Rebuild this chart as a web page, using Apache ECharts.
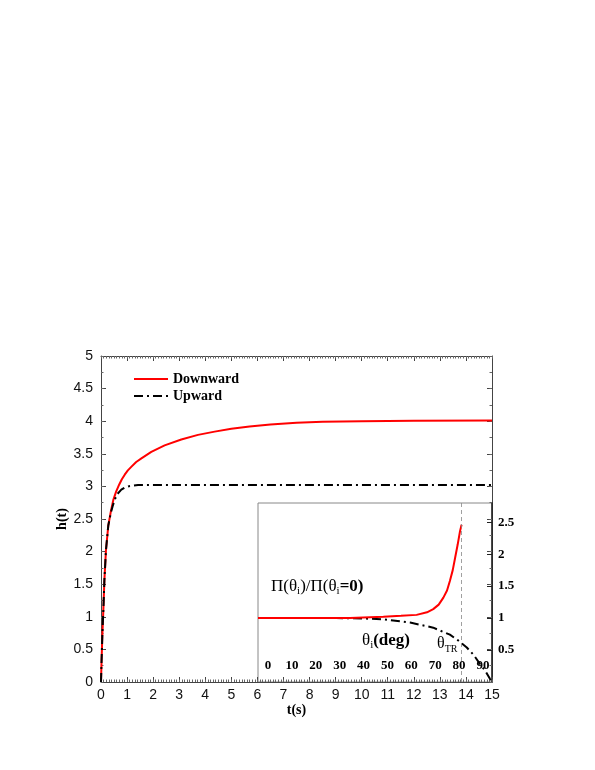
<!DOCTYPE html>
<html>
<head>
<meta charset="utf-8">
<script src="https://cdn.jsdelivr.net/npm/echarts@6/dist/echarts.min.js"></script>
<style>html,body{margin:0;padding:0;background:#fff}#c{width:595px;height:770px}</style>
</head>
<body>
<div id="c"></div>
<script>
// Main plot: h(t)
var tDown = [0, 0.02, 0.05, 0.09, 0.13, 0.19, 0.28, 0.38, 0.47, 0.58, 0.7, 0.8, 0.91, 1.03, 1.16, 1.35, 1.55, 1.93, 2.44, 3.08, 3.72, 4.36, 5.0, 5.7, 6.5, 7.5, 8.5, 10, 12, 15];
var hDown = [0, 0.3, 0.7, 1.1, 1.56, 2.02, 2.4, 2.62, 2.79, 2.92, 3.03, 3.11, 3.18, 3.245, 3.30, 3.375, 3.43, 3.53, 3.63, 3.72, 3.79, 3.84, 3.885, 3.92, 3.95, 3.975, 3.99, 4.0, 4.005, 4.01];
var tUp = [0, 0.02, 0.05, 0.09, 0.13, 0.19, 0.28, 0.38, 0.45, 0.52, 0.62, 0.78, 0.9, 1.04, 1.2, 1.42, 1.8, 2.5, 15];
var hUp = [0, 0.3, 0.7, 1.1, 1.56, 2.02, 2.4, 2.6, 2.70, 2.79, 2.88, 2.95, 2.98, 3.0, 3.01, 3.02, 3.02, 3.02, 3.02];
// Inset: Pi(theta_i)/Pi(theta_i=0)
var thDown = [0, 20, 35.4, 48.2, 55, 61.0, 65, 67.4, 69.5, 71.3, 72.7, 73.8, 74.9, 75.8, 76.8, 77.7, 78.3];
var pDown = [1, 1, 1.0, 1.02, 1.035, 1.05, 1.09, 1.14, 1.21, 1.32, 1.43, 1.58, 1.75, 1.94, 2.15, 2.36, 2.46];
var thUp = [0, 20, 30, 40, 48.2, 58.5, 63, 67.4, 73.8, 77, 80.3, 83, 85.4, 87.5, 89.2, 90];
var pUp = [1, 1, 1.0, 0.995, 0.98, 0.93, 0.89, 0.85, 0.74, 0.65, 0.54, 0.42, 0.28, 0.17, 0.05, 0];
var thetaTR = 78.3;
var insetTickLabels = ['0', '10', '20', '30', '40', '50', '60', '70', '80', '90'];

function pairs(xs, ys) { return xs.map(function (x, i) { return [x, ys[i]]; }); }

var sans = 'Liberation Sans';
var serif = 'Liberation Serif';
var axisCol = '#444';
var dashDot = [9, 4, 2, 4];

var chart = echarts.init(document.getElementById('c'), null, { renderer: 'canvas' });
var majorTick = { show: true, inside: true, length: 5, lineStyle: { color: axisCol } };
var minorTickAx = { show: true, inside: true, length: 2.5, lineStyle: { color: '#666' } };
var noLabel = { show: false };
var noSplit = { show: false };
var titleFont = { fontFamily: serif, fontWeight: 'bold', fontSize: 14, color: '#000' };

chart.setOption({
  animation: false,
  backgroundColor: '#fff',
  legend: {
    data: ['Downward', 'Upward'],
    orient: 'vertical', left: 133, top: 372, padding: 0,
    itemWidth: 34, itemHeight: 12, itemGap: 3,
    itemStyle: { opacity: 0 },
    textStyle: { fontFamily: serif, fontWeight: 'bold', fontSize: 14, color: '#000' }
  },
  grid: [
    { left: 101, top: 356, right: 103, bottom: 88 },
    { left: 258, top: 503, right: 103, bottom: 88, show: true, borderColor: '#888', borderWidth: 1 },
    { left: 268, right: 112, top: 600, bottom: 115 }
  ],
  xAxis: [
    { gridIndex: 0, type: 'value', min: 0, max: 15, interval: 1, position: 'bottom',
      name: 't(s)', nameLocation: 'middle', nameGap: 21, nameTextStyle: titleFont,
      axisLine: { onZero: false, lineStyle: { color: axisCol } }, axisTick: majorTick,
      axisLabel: { fontFamily: sans, fontSize: 14, color: '#111', margin: 6 }, splitLine: noSplit },
    { gridIndex: 0, type: 'value', min: 0, max: 15, interval: 1, position: 'top',
      axisLine: { onZero: false, lineStyle: { color: axisCol } }, axisTick: majorTick,
      axisLabel: noLabel, splitLine: noSplit },
    { gridIndex: 0, type: 'value', min: 0, max: 15, interval: 0.1, position: 'bottom',
      axisLine: { show: false, onZero: false }, axisTick: minorTickAx, axisLabel: noLabel, splitLine: noSplit },
    { gridIndex: 0, type: 'value', min: 0, max: 15, interval: 0.1, position: 'top',
      axisLine: { show: false, onZero: false }, axisTick: minorTickAx, axisLabel: noLabel, splitLine: noSplit },
    { gridIndex: 1, type: 'value', min: 0, max: 90, show: false, axisLine: { onZero: false } },
    { gridIndex: 2, type: 'category', data: insetTickLabels, boundaryGap: false,
      axisLine: { show: false, onZero: false }, axisTick: { show: false },
      axisLabel: { fontFamily: serif, fontWeight: 'bold', fontSize: 13, color: '#000', margin: 4 } }
  ],
  yAxis: [
    { gridIndex: 0, type: 'value', min: 0, max: 5, interval: 0.5, position: 'left',
      name: 'h(t)', nameLocation: 'middle', nameGap: 32, nameRotate: 90, nameMoveOverlap: false, nameTextStyle: titleFont,
      axisLine: { show: true, onZero: false, lineStyle: { color: axisCol } }, axisTick: majorTick,
      axisLabel: { fontFamily: sans, fontSize: 14, color: '#111', margin: 8 }, splitLine: noSplit },
    { gridIndex: 0, type: 'value', min: 0, max: 5, interval: 0.5, position: 'right',
      axisLine: { show: true, onZero: false, lineStyle: { color: axisCol } }, axisTick: majorTick,
      axisLabel: noLabel, splitLine: noSplit },
    { gridIndex: 0, type: 'value', min: 0, max: 5, interval: 0.25, position: 'left',
      axisLine: { show: false, onZero: false }, axisTick: minorTickAx, axisLabel: noLabel, splitLine: noSplit },
    { gridIndex: 0, type: 'value', min: 0, max: 5, interval: 0.25, position: 'right',
      axisLine: { show: false, onZero: false }, axisTick: minorTickAx, axisLabel: noLabel, splitLine: noSplit },
    { gridIndex: 1, type: 'value', min: 0, max: 2.8, interval: 0.5, position: 'right',
      axisLine: { show: true, onZero: false, lineStyle: { color: '#222', width: 1.5 } },
      axisTick: { show: true, inside: true, length: 5, lineStyle: { color: '#222' } },
      axisLabel: { fontFamily: serif, fontWeight: 'bold', fontSize: 13, color: '#000', margin: 6, showMinLabel: false, showMaxLabel: false },
      splitLine: noSplit },
    { gridIndex: 2, type: 'value', show: false, axisLine: { onZero: false } }
  ],
  series: [
    { name: 'Downward', type: 'line', xAxisIndex: 0, yAxisIndex: 0, data: pairs(tDown, hDown),
      symbol: 'none', smooth: false, lineStyle: { color: '#ff0000', width: 2 }, itemStyle: { color: '#ff0000' }, z: 3 },
    { name: 'Upward', type: 'line', xAxisIndex: 0, yAxisIndex: 0, data: pairs(tUp, hUp),
      symbol: 'none', smooth: false, lineStyle: { color: '#000', width: 2, type: dashDot }, itemStyle: { color: '#000' }, z: 4 },
    { name: 'insetUp', type: 'line', xAxisIndex: 4, yAxisIndex: 4, data: pairs(thUp, pUp),
      symbol: 'none', smooth: false, lineStyle: { color: '#000', width: 2, type: dashDot }, z: 3 },
    { name: 'insetDown', type: 'line', xAxisIndex: 4, yAxisIndex: 4, data: pairs(thDown, pDown),
      symbol: 'none', smooth: false, lineStyle: { color: '#ff0000', width: 2 }, z: 4,
      markLine: { silent: true, symbol: 'none', label: { show: false },
        lineStyle: { color: '#888', width: 0.8, type: [4, 3] }, data: [{ xAxis: thetaTR }] } }
  ],
  graphic: [
    { type: 'text', x: 271, y: 587, style: {
      text: '{n|Π(θ}{s|i}{n|)/Π(θ}{s|i}{b|=0)}',
      verticalAlign: 'middle', fill: '#000',
      rich: { n: { fontFamily: serif, fontSize: 17, lineHeight: 20, fill: '#000' },
              b: { fontFamily: serif, fontSize: 17, fontWeight: 'bold', lineHeight: 20, fill: '#000' },
              s: { fontFamily: serif, fontSize: 11, lineHeight: 11, verticalAlign: 'bottom', fill: '#000' } } } },
    { type: 'text', x: 362, y: 641, style: {
      text: '{n|θ}{s|i}{b|(deg)}',
      verticalAlign: 'middle', fill: '#000',
      rich: { n: { fontFamily: serif, fontSize: 17, lineHeight: 20, fill: '#000' },
              b: { fontFamily: serif, fontSize: 17, fontWeight: 'bold', lineHeight: 20, fill: '#000' },
              s: { fontFamily: serif, fontSize: 11, lineHeight: 11, verticalAlign: 'bottom', fill: '#000' } } } },
    { type: 'text', x: 437, y: 644, style: {
      text: '{n|θ}{s|TR}',
      verticalAlign: 'middle', fill: '#000',
      rich: { n: { fontFamily: serif, fontSize: 16, lineHeight: 20, fill: '#000' },
              s: { fontFamily: serif, fontSize: 10, lineHeight: 10, verticalAlign: 'bottom', fill: '#000' } } } }
  ]
});
</script>
</body>
</html>
